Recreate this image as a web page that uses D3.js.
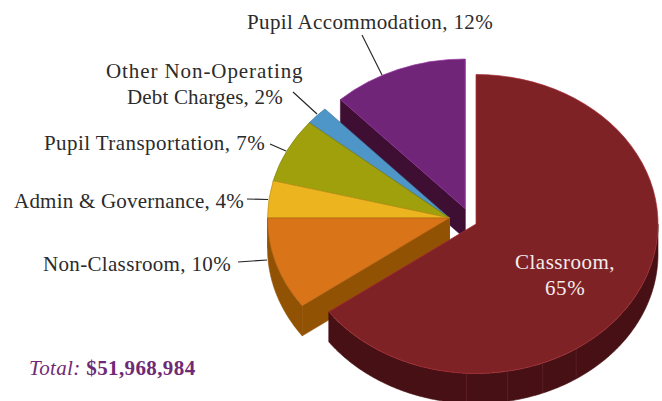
<!DOCTYPE html>
<html>
<head>
  <meta charset="utf-8">
  <title>Spending pie</title>
  <script src="https://cdn.jsdelivr.net/npm/d3@7"></script>
  <style>
    html, body { margin: 0; background: #fff; }
    svg { display: block; }
    text { font-family: "Liberation Serif", serif; font-size: 21px; letter-spacing: 0.38px; fill: #2b2b2b; }
  </style>
</head>
<body>
<svg id="chart" width="662" height="401"></svg>
<script>
// data, clockwise from 12 o'clock
var categories = ['Classroom', 'Non-Classroom', 'Admin & Governance', 'Pupil Transportation', 'Other Non-Operating Debt Charges', 'Pupil Accommodation'];
var shares = [65, 10, 4, 7, 2, 12];
var topColors = ['#7f2226', '#d97518', '#ecb51f', '#a0a00c', '#4e95c8', '#702579'];
var sideColors = ['#461014', '#925203', '#a87f10', '#6d6d08', '#1d5a8a', '#3f0e33'];
var totalLabel = '$51,968,984';

// layout
var rx = 182, ry = 149.5, depth = 30;
var hub = { x: 449.5, y: 218 };
var exploded = { 'Classroom': { x: 476, y: 224 }, 'Pupil Accommodation': { x: 465, y: 208.5 } };
var drawOrder = ['Pupil Accommodation', 'Other Non-Operating Debt Charges', 'Pupil Transportation', 'Admin & Governance', 'Non-Classroom', 'Classroom'];
var seamDegrees = [183, 170, 158.5, 146.6]; // faint facet lines on the classroom rim

var svg = d3.select('#chart');

var slices = d3.pie().sort(null).value(d => d.share)(categories.map((c, i) => ({ name: c, share: shares[i], top: topColors[i], side: sideColors[i] })));
var arc = d3.arc().innerRadius(0).outerRadius(rx);
var line = d3.line();

function centre(d) { return exploded[d.data.name] || hub; }
function rimPoint(c, a, drop) {
  return [c.x + rx * Math.sin(a), c.y - ry * Math.cos(a) + drop];
}

var byName = new Map(slices.map(d => [d.data.name, d]));

drawOrder.forEach(function (name) {
  var d = byName.get(name);
  var c = centre(d);
  var g = svg.append('g').attr('class', 'slice');

  // flat cut faces that look toward the viewer
  [d.startAngle, d.endAngle].forEach(function (a, i) {
    // normal of the cut; only draw when it points down the screen
    var facing = i === 0 ? Math.cos(a - Math.PI / 2) : Math.cos(a + Math.PI / 2);
    if (facing >= 0) return;
    var p = rimPoint(c, a, 0);
    g.append('path')
      .attr('d', line([[c.x, c.y], p, [p[0], p[1] + depth], [c.x, c.y + depth]]) + 'Z')
      .attr('fill', d.data.side)
      .attr('stroke', d.data.side)
      .attr('stroke-width', 0.6);
  });

  // outer rim, front half only
  var a0 = Math.max(d.startAngle, Math.PI / 2);
  var a1 = Math.min(d.endAngle, 3 * Math.PI / 2);
  if (a1 > a0) {
    var angles = d3.range(a0, a1, 0.01).concat([a1]);
    var upper = angles.map(a => rimPoint(c, a, 0));
    var lower = angles.slice().reverse().map(a => rimPoint(c, a, depth));
    g.append('path')
      .attr('d', line(upper.concat(lower)) + 'Z')
      .attr('fill', d.data.side)
      .attr('stroke', d.data.side)
      .attr('stroke-width', 0.6);
  }

  if (name === 'Classroom') {
    seamDegrees.forEach(function (deg) {
      var a = deg * Math.PI / 180;
      g.append('path')
        .attr('d', line([rimPoint(c, a, 0), rimPoint(c, a, depth)]))
        .attr('stroke', '#6a2a2e')
        .attr('stroke-width', 0.6)
        .attr('fill', 'none');
    });
  }

  // top surface: circular arc squashed into the tilt ellipse
  g.append('path')
    .attr('transform', 'translate(' + c.x + ',' + c.y + ') scale(1,' + (ry / rx) + ')')
    .attr('d', arc(d))
    .attr('fill', d.data.top)
    .attr('stroke', d3.color(d.data.top).brighter(name === 'Classroom' || name === 'Pupil Accommodation' ? 0.8 : -0.6))
    .attr('stroke-width', 0.7)
    .attr('stroke-linejoin', 'round')
    .attr('vector-effect', 'non-scaling-stroke');
});

// leader lines
var leaders = [
  [[362, 35], [382, 75]],
  [[293, 92], [317, 114]],
  [[270, 144], [286, 151]],
  [[247, 199], [268, 199.5]],
  [[238, 262], [267, 260]]
];
svg.selectAll('path.leader').data(leaders).enter().append('path')
  .attr('class', 'leader')
  .attr('d', d => line(d))
  .attr('fill', 'none')
  .attr('stroke', '#222')
  .attr('stroke-width', 1.1);

// labels, width pins each line to the measured run of the original type
var labels = [
  { text: 'Pupil Accommodation, 12%', x: 247, y: 29, width: 246 },
  { text: 'Other Non-Operating', x: 106, y: 78, width: 197 },
  { text: 'Debt Charges, 2%', x: 127, y: 104, width: 156 },
  { text: 'Pupil Transportation, 7%', x: 44, y: 150, width: 221 },
  { text: 'Admin & Governance, 4%', x: 14, y: 208, width: 230 },
  { text: 'Non-Classroom, 10%', x: 43, y: 271, width: 188 },
  { text: 'Classroom,', x: 515, y: 269, width: 100, fill: '#f4ecec' },
  { text: '65%', x: 545, y: 295, width: 40, fill: '#f4ecec' }
];
svg.selectAll('text.label').data(labels).enter().append('text')
  .attr('class', 'label')
  .attr('x', d => d.x)
  .attr('y', d => d.y)
  .attr('textLength', d => d.width)
  .style('fill', d => d.fill || null)
  .text(d => d.text);

var total = svg.append('text').attr('x', 29).attr('y', 375).style('fill', '#6f2a75');
total.append('tspan').attr('font-style', 'italic').text('Total: ');
total.append('tspan').attr('font-weight', 'bold').text(totalLabel);
</script>
</body>
</html>
